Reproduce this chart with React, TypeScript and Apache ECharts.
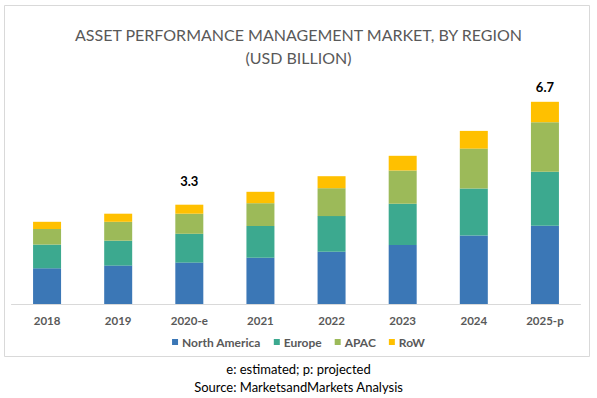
import React, { useEffect, useRef } from "react";
import * as echarts from "echarts";

const categories = ["2018", "2019", "2020-e", "2021", "2022", "2023", "2024", "2025-p"];
const northAmerica = [1.19, 1.28, 1.38, 1.54, 1.74, 1.97, 2.28, 2.61];
const europe = [0.79, 0.83, 0.96, 1.06, 1.19, 1.37, 1.57, 1.8];
const apac = [0.52, 0.63, 0.67, 0.76, 0.93, 1.11, 1.33, 1.65];
const row = [0.24, 0.27, 0.3, 0.38, 0.4, 0.49, 0.59, 0.68];
const labelledTotals: Record<number, { text: string; distance: number }> = {
  2: { text: "3.3", distance: 17 },
  7: { text: "6.7", distance: 8 },
};

const FONT = "Lato, 'Open Sans', sans-serif";

export default function App() {
  const ref = useRef<HTMLDivElement>(null);
  useEffect(() => {
    if (!ref.current) return;
    const chart = echarts.init(ref.current, undefined, { renderer: "svg" });
    const colors = ["#3B77B6", "#3CA98F", "#9CBA59", "#FFC000"];
    const names = ["North America", "Europe", "APAC", "RoW"];
    const datasets = [northAmerica, europe, apac, row];
    const series = datasets.map((d, si) => ({
      name: names[si],
      type: "bar",
      stack: "total",
      barWidth: 28,
      itemStyle: { color: colors[si] },
      data: d.map((v, i) => {
        if (si === 3 && labelledTotals[i]) {
          return {
            value: v,
            label: {
              show: true,
              position: "top",
              distance: labelledTotals[i].distance,
              formatter: labelledTotals[i].text,
              color: "#000",
              fontWeight: "bold",
              fontSize: 13,
              fontFamily: FONT,
            },
          };
        }
        return v;
      }),
    }));
    chart.setOption({
      animation: false,
      title: {
        text: "ASSET PERFORMANCE MANAGEMENT MARKET, BY REGION\n(USD BILLION)",
        left: "center",
        top: 18,
        textStyle: {
          fontFamily: FONT,
          fontWeight: "normal",
          fontSize: 16,
          lineHeight: 23,
          color: "#595959",
        },
      },
      legend: {
        data: names,
        top: 331,
        left: "center",
        icon: "rect",
        itemWidth: 6,
        itemHeight: 6,
        itemGap: 13,
        textStyle: { fontFamily: FONT, fontSize: 12, fontWeight: "bold", color: "#595959", padding: [0, 0, 0, -1] },
      },
      grid: { left: 11.5, right: 16.5, top: 79, height: 225, containLabel: false },
      xAxis: {
        type: "category",
        data: categories,
        axisLine: { lineStyle: { color: "#d9d9d9" } },
        axisTick: { show: false },
        axisLabel: {
          fontFamily: FONT,
          fontSize: 11.5,
          fontWeight: "bold",
          color: "#595959",
          margin: 10,
        },
      },
      yAxis: {
        type: "value",
        min: 0,
        max: 7.5,
        show: false,
        splitLine: { show: false },
      },
      graphic: [
        {
          type: "rect",
          shape: { x: 4.5, y: 5.5, width: 585, height: 351 },
          style: { fill: "none", stroke: "#d9d9d9", lineWidth: 1 },
          z: -1,
        },
        {
          type: "text",
          x: 298.5,
          y: 369,
          style: {
            text: "e: estimated; p: projected",
            textAlign: "center",
            textVerticalAlign: "middle",
            fontFamily: FONT,
            fontSize: 13,
            fill: "#000",
          },
        },
        {
          type: "text",
          x: 298.5,
          y: 387,
          style: {
            text: "Source: MarketsandMarkets Analysis",
            textAlign: "center",
            textVerticalAlign: "middle",
            fontFamily: FONT,
            fontSize: 13,
            fill: "#000",
          },
        },
      ],
      series,
    });
    return () => chart.dispose();
  }, []);
  return (
    <div
      ref={ref}
      style={{ position: "fixed", left: 0, top: 0, width: 597, height: 398, background: "#fff" }}
    />
  );
}
